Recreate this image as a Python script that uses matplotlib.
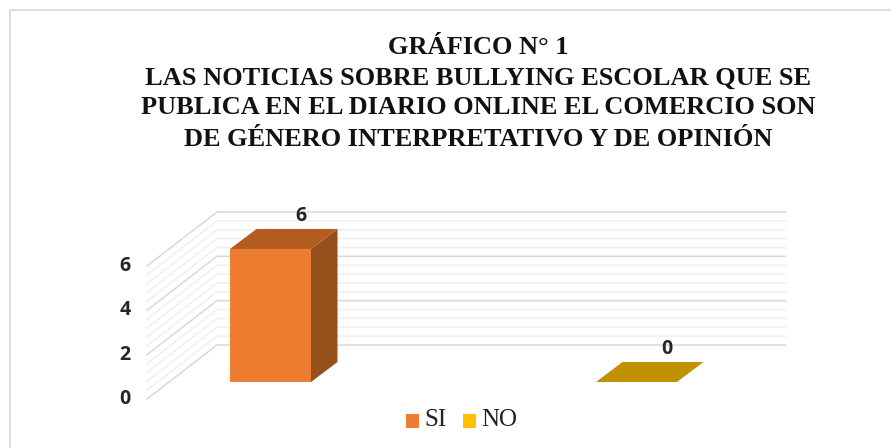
import matplotlib
matplotlib.use('Agg')
import matplotlib.pyplot as plt
from matplotlib.patches import Polygon, Rectangle

categories = ['SI', 'NO']
values = [6, 0]
tick_values = [0, 2, 4, 6]
title_lines = ['GRÁFICO N° 1',
               'LAS NOTICIAS SOBRE BULLYING ESCOLAR QUE SE',
               'PUBLICA EN EL DIARIO ONLINE EL COMERCIO SON',
               'DE GÉNERO INTERPRETATIVO Y DE OPINIÓN']

W, H = 891, 448
PX_PER_UNIT = 22.17
PX_PER_CAT = 366
X0, Y0 = 270.5, 382

front_colors = ['#ED7D31', '#FFC000']
top_colors = ['#B35E20', '#C09100']
side_colors = ['#96501B', '#96501B']

fig = plt.figure(figsize=(W / 100, H / 100), dpi=100)
ax = fig.add_axes([0, 0, 1, 1])
# one category = PX_PER_CAT px, one value unit = PX_PER_UNIT px
ax.set_xlim(-X0 / PX_PER_CAT, (W - X0) / PX_PER_CAT)
ax.set_ylim((Y0 - H) / PX_PER_UNIT, Y0 / PX_PER_UNIT)
ax.axis('off')

dx = 1 / PX_PER_CAT
dy = 1 / PX_PER_UNIT

# chart frame, only top and left show in the crop
ax.plot([(10 - X0) * dx, (10 - X0) * dx, (W - X0) * dx],
        [(Y0 - H) * dy, (Y0 - 10.5) * dy, (Y0 - 10.5) * dy], color='#DDDDDD', lw=1.4, zorder=1)

# walls and gridlines
wall_left = -123.5 * dx
wall_back = -53.5 * dx
wall_right = 515 * dx
for i in range(0, 16):
    v = i * 0.4
    major = i % 5 == 0
    color = '#D9D9D9' if major else '#F0F0F0'
    lw = 1.1 if major else 1.2
    ax.plot([wall_left, wall_back, wall_right],
            [v - 17 * dy, v + 37 * dy, v + 37 * dy], color=color, lw=lw,
            solid_joinstyle='miter', zorder=2 if major else 1)

# bars
bar_w = 81 * dx
depth_x, depth_y = 26.5 * dx, 20 * dy
for i, v in enumerate(values):
    l, r = i - bar_w / 2, i + bar_w / 2
    if v > 0:
        ax.add_patch(Polygon([(r, 0), (r + depth_x, depth_y), (r + depth_x, v + depth_y), (r, v)],
                             fc=side_colors[i], ec='none', zorder=3))
        ax.add_patch(Rectangle((l, 0), bar_w, v, fc=front_colors[i], ec='none', zorder=4))
    ax.add_patch(Polygon([(l, v), (r, v), (r + depth_x, v + depth_y), (l + depth_x, v + depth_y)],
                         fc=top_colors[i], ec='none', zorder=4))
    ax.text(i + 30 * dx, v + depth_y + 12.5 * dy, str(v), ha='center', va='center',
            fontsize=14, fontweight='bold', family='Open Sans', color='#262626', zorder=5)

# tick labels
for t in tick_values:
    ax.text(-145.5 * dx, t - 17 * dy, str(t), ha='center', va='center',
            fontsize=14, fontweight='bold', family='Open Sans', color='#262626')

# title
title_y = [48, 78, 108, 139]
for line, py in zip(title_lines, title_y):
    ax.text((478 - X0) * dx, (Y0 - py) * dy, line, ha='center', va='center',
            fontsize=19, fontweight='bold', family='Liberation Serif', color='#111111')

# legend
legend_x = [406, 463]
for c, color, px in zip(categories, front_colors, legend_x):
    ax.add_patch(Rectangle(((px - X0) * dx, (Y0 - 428) * dy), 12.5 * dx, 14 * dy, fc=color, ec='none'))
    ax.text((px + 18 - X0) * dx, (Y0 - 420) * dy, c, ha='left', va='center',
            fontsize=18, family='Liberation Serif', color='#222222')

fig.savefig('out.png', dpi=100)
